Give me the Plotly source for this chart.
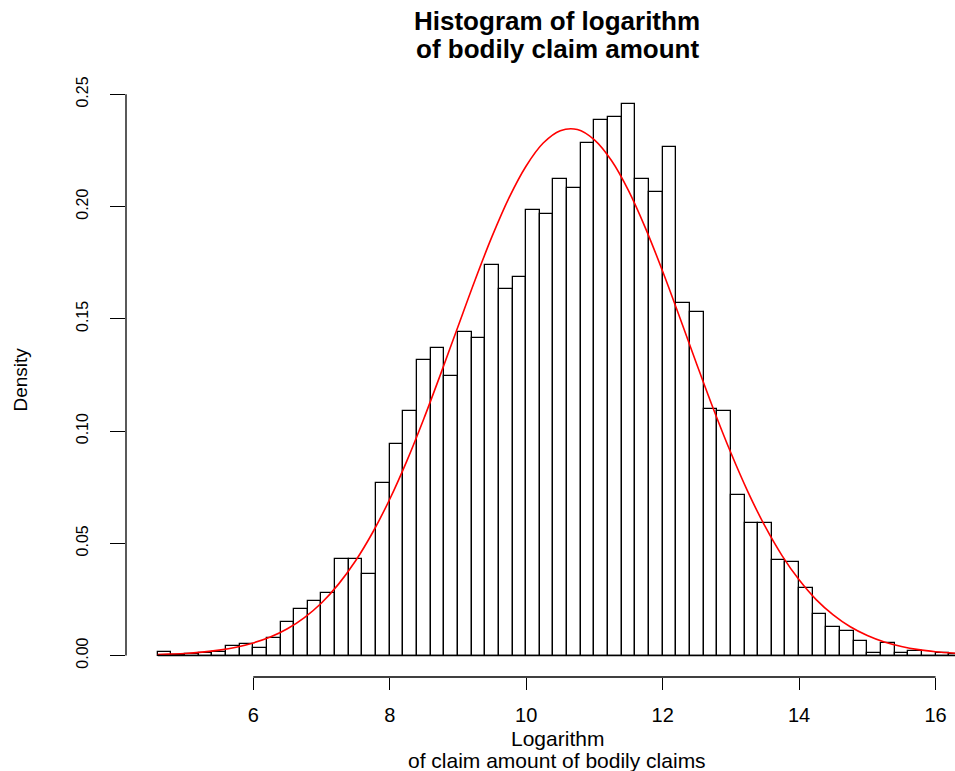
import plotly.graph_objects as go

# ---- data ----
bin_left = [4.6, 4.8, 5.0, 5.2, 5.4, 5.6, 5.8, 6.0, 6.2, 6.4, 6.6, 6.8, 7.0, 7.2, 7.4, 7.6,
            7.8, 8.0, 8.2, 8.4, 8.6, 8.8, 9.0, 9.2, 9.4, 9.6, 9.8, 10.0, 10.2, 10.4, 10.6,
            10.8, 11.0, 11.2, 11.4, 11.6, 11.8, 12.0, 12.2, 12.4, 12.6, 12.8, 13.0, 13.2,
            13.4, 13.6, 13.8, 14.0, 14.2, 14.4, 14.6, 14.8, 15.0, 15.2, 15.4, 15.6, 15.8,
            16.0, 16.2]
density = [0.0015, 0.0004, 0.0005, 0.0010, 0.0015, 0.0043, 0.0050, 0.0034, 0.0080, 0.0150,
           0.0206, 0.0244, 0.0279, 0.0431, 0.0431, 0.0362, 0.0769, 0.0944, 0.1088, 0.1315,
           0.1369, 0.1243, 0.1441, 0.1416, 0.1739, 0.1633, 0.1686, 0.1985, 0.1967, 0.2121,
           0.2084, 0.2285, 0.2384, 0.2401, 0.2457, 0.2121, 0.2065, 0.2265, 0.1569, 0.1532,
           0.1098, 0.1089, 0.0716, 0.0590, 0.0590, 0.0426, 0.0417, 0.0300, 0.0183, 0.0128,
           0.0110, 0.0065, 0.0012, 0.0056, 0.0012, 0.0020, 0.0000, 0.0012, 0.0006]
bin_width = 0.2

curve_x = [4.6, 4.75, 5.0, 5.25, 5.5, 5.75, 6.0, 6.25, 6.5, 6.75, 7.0, 7.25, 7.5, 7.75,
           8.0, 8.25, 8.5, 8.75, 9.0, 9.25, 9.5, 9.75, 10.0, 10.25, 10.5, 10.75, 11.0,
           11.25, 11.5, 11.75, 12.0, 12.25, 12.5, 12.75, 13.0, 13.25, 13.5, 13.75, 14.0,
           14.25, 14.5, 14.75, 15.0, 15.25, 15.5, 15.75, 16.0, 16.3]
curve_y = [0.0004, 0.0006, 0.0009, 0.0015, 0.0024, 0.0037, 0.0056, 0.0082, 0.0119, 0.0169,
           0.0234, 0.0318, 0.0422, 0.0548, 0.0696, 0.0866, 0.1055, 0.1257, 0.1465, 0.1672,
           0.1867, 0.2040, 0.2181, 0.2283, 0.2338, 0.2343, 0.2297, 0.2205, 0.2071, 0.1903,
           0.1712, 0.1507, 0.1298, 0.1094, 0.0903, 0.0729, 0.0576, 0.0445, 0.0337, 0.0249,
           0.0181, 0.0128, 0.0089, 0.0060, 0.0040, 0.0026, 0.0017, 0.0010]

x_ticks = [6, 8, 10, 12, 14, 16]
y_ticks = [0.00, 0.05, 0.10, 0.15, 0.20, 0.25]
y_tick_text = ["0.00", "0.05", "0.10", "0.15", "0.20", "0.25"]

title_lines = ["Histogram of logarithm", "of bodily claim amount"]
x_title_lines = ["Logarithm", "of claim amount of bodily claims"]
y_title = "Density"

FONT = "Liberation Sans, Arial, Helvetica, sans-serif"

bin_centers = [b + bin_width / 2 for b in bin_left]

fig = go.Figure()
fig.add_trace(go.Bar(
    x=bin_centers, y=density, width=bin_width,
    marker=dict(color="white", line=dict(color="black", width=1.3)),
    showlegend=False, hoverinfo="skip",
))
fig.add_trace(go.Scatter(
    x=curve_x, y=curve_y, mode="lines",
    line=dict(color="red", width=1.6, shape="spline"),
    showlegend=False, hoverinfo="skip",
))

# baseline under the bars
fig.add_shape(type="line", xref="x", yref="y", x0=bin_left[0], x1=bin_left[-1] + bin_width,
              y0=0, y1=0, line=dict(color="black", width=1.3), layer="above")
# R-style axis lines spanning only the tick range
fig.add_shape(type="line", xref="paper", yref="y", x0=0, x1=0, y0=y_ticks[0], y1=y_ticks[-1],
              line=dict(color="black", width=1.3))
fig.add_shape(type="line", xref="x", yref="paper", x0=x_ticks[0], x1=x_ticks[-1], y0=0, y1=0,
              line=dict(color="black", width=1.3))


def py(p):
    """pixel row -> paper y (plot area spans rows 82..677)"""
    return (677 - p) / 595


XC = (557 - 126) / 829

annotations = [
    dict(text="<b>" + title_lines[0] + "</b>", xref="paper", yref="paper", x=XC, y=py(21),
         xanchor="center", yanchor="middle", showarrow=False, font=dict(size=26, family=FONT)),
    dict(text="<b>" + title_lines[1] + "</b>", xref="paper", yref="paper", x=XC, y=py(49),
         xanchor="center", yanchor="middle", showarrow=False, font=dict(size=26, family=FONT)),
    dict(text=x_title_lines[0], xref="paper", yref="paper", x=XC, y=py(738),
         xanchor="center", yanchor="middle", showarrow=False, font=dict(size=21, family=FONT)),
    dict(text=x_title_lines[1], xref="paper", yref="paper", x=XC, y=py(760),
         xanchor="center", yanchor="middle", showarrow=False, font=dict(size=21, family=FONT)),
    dict(text=y_title, xref="paper", yref="paper", textangle=-90,
         x=(20 - 126) / 829, y=0.5, xanchor="center", yanchor="middle",
         showarrow=False, font=dict(size=19, family=FONT)),
]

fig.update_layout(
    width=955, height=771, autosize=False,
    margin=dict(l=126, r=0, t=82, b=94, pad=0),
    paper_bgcolor="white", plot_bgcolor="white",
    font=dict(family=FONT, color="black"),
    bargap=0,
    xaxis=dict(range=[4.135, 16.285], tickvals=x_ticks, ticks="outside", ticklen=12,
               tickwidth=1.3, tickcolor="black", showline=False, showgrid=False,
               zeroline=False, tickfont=dict(size=20, family=FONT), ticklabelstandoff=8),
    yaxis=dict(range=[-0.00958, 0.2555], tickvals=y_ticks, ticktext=y_tick_text,
               tickangle=-90, ticks="outside", ticklen=15, tickwidth=1.3, tickcolor="black",
               showline=False, showgrid=False, zeroline=False,
               tickfont=dict(size=16, family=FONT), ticklabelstandoff=16),
    annotations=annotations,
)

fig.write_html("out.html")
